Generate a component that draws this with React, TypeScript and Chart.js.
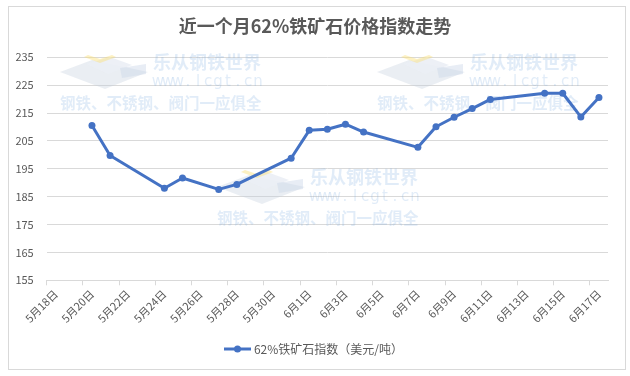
import React, { useEffect, useRef } from 'react';
import { Chart, registerables } from 'chart.js';

Chart.register(...registerables);

const FONT = '"Noto Sans CJK SC", "Noto Sans", sans-serif';

const chartTitle = '近一个月62%铁矿石价格指数走势';
const seriesName = '62%铁矿石指数（美元/吨）';

const dateLabels = [
  '5月18日', '5月19日', '5月20日', '5月21日', '5月22日', '5月23日', '5月24日',
  '5月25日', '5月26日', '5月27日', '5月28日', '5月29日', '5月30日', '5月31日',
  '6月1日', '6月2日', '6月3日', '6月4日', '6月5日', '6月6日', '6月7日',
  '6月8日', '6月9日', '6月10日', '6月11日', '6月12日', '6月13日', '6月14日',
  '6月15日', '6月16日', '6月17日',
];

const ironOreIndex = [
  null, null, 210.5, 199.8, null, null, 188.0,
  191.7, null, 187.6, 189.4, null, null, 198.8,
  208.8, 209.2, 211.0, 208.2, null, null, 202.7,
  210.1, 213.5, 216.6, 219.9, null, null, 222.1,
  222.1, 213.6, 220.6,
];

const yMin = 155;
const yMax = 235;
const yStep = 10;

const watermarkLines = ['乐从钢铁世界', 'www.lcgt.cn', '钢铁、不锈钢、阀门一应俱全'];

const bgPlugin = {
  id: 'bgBorder',
  beforeDraw(chart: any) {
    const ctx = chart.ctx;
    ctx.save();
    ctx.fillStyle = '#ffffff';
    ctx.fillRect(0, 0, chart.width, chart.height);
    ctx.strokeStyle = '#d9d9d9';
    ctx.lineWidth = 1;
    ctx.strokeRect(8.5, 6.5, 617, 363);
    ctx.restore();
  },
};

// centre title and legend on the whole frame (as in the original), not on the padded area
const centerBoxesPlugin = {
  id: 'centerBoxes',
  afterLayout(chart: any) {
    const shift = (box: any) => {
      if (!box) return;
      const d = (chart.width - (box.left + box.right)) / 2;
      box.left += d;
      box.right += d;
    };
    shift(chart.legend);
    shift(chart.titleBlock);
  },
};

function drawLogo(ctx: CanvasRenderingContext2D, x: number, y: number) {
  const poly = (pts: number[][], fill: string) => {
    ctx.beginPath();
    pts.forEach(([px, py], i) => (i === 0 ? ctx.moveTo(x + px, y + py) : ctx.lineTo(x + px, y + py)));
    ctx.closePath();
    ctx.fillStyle = fill;
    ctx.fill();
  };
  poly([[0, 20], [32, 8], [88, 20], [45, 37]], 'rgba(195,205,222,0.35)');
  poly([[26, 12], [50, 5], [72, 13], [48, 22]], 'rgba(235,238,245,0.9)');
  poly([[60, 16], [86, 12], [86, 22], [62, 26]], 'rgba(205,215,232,0.45)');
  poly([[28, 3], [40, 7], [52, 3], [56, 5], [40, 11], [24, 5]], 'rgba(250,225,120,0.45)');
}

const watermarkPlugin = {
  id: 'watermark',
  beforeDatasetsDraw(chart: any) {
    const ctx: CanvasRenderingContext2D = chart.ctx;
    const offsets = [[0, 0], [317, 0], [157, 115]];
    ctx.save();
    for (const [dx, dy] of offsets) {
      drawLogo(ctx, 60 + dx, 52 + dy);
      ctx.fillStyle = 'rgba(120,170,225,0.22)';
      ctx.textBaseline = 'middle';
      ctx.textAlign = 'left';
      ctx.font = 'bold 18px "Noto Sans CJK SC"';
      ctx.fillText(watermarkLines[0], 153 + dx, 62 + dy);
      ctx.font = '15px "DejaVu Sans"';
      ctx.textAlign = 'center';
      Array.from(watermarkLines[1]).forEach((ch, i) => ctx.fillText(ch, 153 + dx + 5 + i * 10, 82 + dy));
      ctx.textAlign = 'left';
      ctx.font = 'bold 15.5px "Noto Sans CJK SC"';
      ctx.fillText(watermarkLines[2], 60 + dx, 103 + dy);
    }
    ctx.restore();
  },
};

export default function App() {
  const ref = useRef<HTMLCanvasElement>(null);

  useEffect(() => {
    const marker = document.createElement('canvas');
    marker.width = 27;
    marker.height = 8;
    const m = marker.getContext('2d')!;
    m.strokeStyle = '#4472c4';
    m.lineWidth = 3;
    m.beginPath();
    m.moveTo(0, 4);
    m.lineTo(27, 4);
    m.stroke();
    m.fillStyle = '#4472c4';
    m.beginPath();
    m.arc(13.5, 4, 3.5, 0, Math.PI * 2);
    m.fill();

    const chart = new Chart(ref.current!, {
      type: 'line',
      data: {
        labels: dateLabels,
        datasets: [
          {
            label: seriesName,
            data: ironOreIndex,
            borderColor: '#4472c4',
            backgroundColor: '#4472c4',
            borderWidth: 3,
            pointRadius: 3.5,
            pointBackgroundColor: '#4472c4',
            pointBorderColor: '#4472c4',
            pointBorderWidth: 0,
            spanGaps: true,
            tension: 0,
            borderJoinStyle: 'round',
            borderCapStyle: 'round',
          },
        ],
      },
      options: {
        responsive: false,
        animation: false,
        devicePixelRatio: 1,
        layout: { padding: { left: 8, right: 22, top: 6, bottom: 11 } },
        plugins: {
          title: {
            display: true,
            text: chartTitle,
            color: '#595959',
            font: { family: FONT, size: 18, weight: 'bold' },
            padding: { top: 9.2, bottom: 20.5 },
          },
          legend: {
            position: 'bottom',
            labels: {
              color: '#595959',
              font: { family: FONT, size: 12 },
              usePointStyle: true,
              pointStyleWidth: 21,
              padding: 10,
              generateLabels: (c: any) => {
                const items = (Chart.defaults.plugins.legend.labels as any).generateLabels(c);
                items.forEach((it: any) => {
                  it.pointStyle = marker;
                });
                return items;
              },
            },
          },
          tooltip: { enabled: false },
        },
        scales: {
          x: {
            offset: true,
            grid: {
              offset: true,
              drawOnChartArea: false,
              drawTicks: true,
              tickLength: 5,
              color: (c: any) => (c.index % 2 === 0 ? '#d9d9d9' : 'rgba(0,0,0,0)'),
            },
            border: { display: true, color: '#d9d9d9' },
            ticks: {
              autoSkip: false,
              minRotation: 45,
              maxRotation: 45,
              color: '#595959',
              font: { family: FONT, size: 11 },
              padding: 2,
              callback: (_v: any, i: number) => (i % 2 === 0 ? dateLabels[i] : ''),
            },
            afterFit: (s: any) => {
              s.height = 52.7;
            },
          },
          y: {
            min: yMin,
            max: yMax,
            ticks: {
              stepSize: yStep,
              color: '#595959',
              font: { family: FONT, size: 11 },
              padding: 13,
            },
            grid: { color: '#d9d9d9', drawTicks: false },
            border: { display: false },
            afterFit: (s: any) => {
              s.width = 38.7;
            },
          },
        },
      } as any,
      plugins: [bgPlugin, centerBoxesPlugin, watermarkPlugin],
    });
    return () => chart.destroy();
  }, []);

  return (
    <div style={{ position: 'fixed', left: 0, top: 0, width: 630, height: 376, background: '#fff' }}>
      <canvas ref={ref} width={630} height={376} style={{ display: 'block', width: 630, height: 376 }} />
    </div>
  );
}
